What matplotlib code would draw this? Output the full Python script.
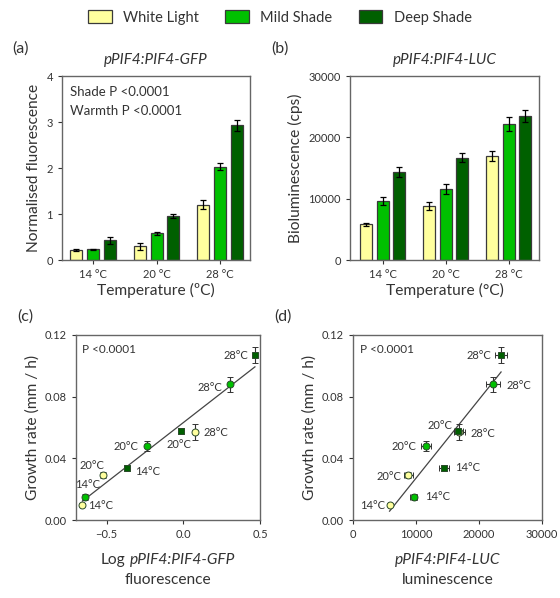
import numpy as np
import matplotlib
matplotlib.use("Agg")
import matplotlib.pyplot as plt
from matplotlib.patches import Patch
from matplotlib.offsetbox import TextArea, HPacker, AnnotationBbox

plt.rcParams["font.family"] = ["Lato", "DejaVu Sans"]
plt.rcParams["text.color"] = "#333333"
plt.rcParams["axes.labelcolor"] = "#333333"
plt.rcParams["xtick.color"] = "#333333"
plt.rcParams["ytick.color"] = "#333333"

# --- data ---
temps = ["14 °C", "20 °C", "28 °C"]
pt_labels = ["14°C", "20°C", "28°C"]
conditions = ["White Light", "Mild Shade", "Deep Shade"]
colors = ["#FFFF9E", "#00C000", "#006000"]

gfp_white = [0.22, 0.30, 1.20]
gfp_mild = [0.23, 0.58, 2.03]
gfp_deep = [0.43, 0.96, 2.93]
gfp_err_white = [0.03, 0.08, 0.10]
gfp_err_mild = [0.02, 0.03, 0.08]
gfp_err_deep = [0.08, 0.04, 0.12]

luc_white = [5800, 8800, 16900]
luc_mild = [9600, 11600, 22200]
luc_deep = [14400, 16700, 23500]
luc_err_white = [300, 700, 800]
luc_err_mild = [600, 800, 1100]
luc_err_deep = [800, 700, 1000]

growth_white = [0.010, 0.029, 0.057]
growth_mild = [0.015, 0.048, 0.088]
growth_deep = [0.034, 0.058, 0.107]
growth_err_white = [0.001, 0.002, 0.005]
growth_err_mild = [0.002, 0.003, 0.005]
growth_err_deep = [0.002, 0.002, 0.005]

gfp = [gfp_white, gfp_mild, gfp_deep]
gfp_err = [gfp_err_white, gfp_err_mild, gfp_err_deep]
luc = [luc_white, luc_mild, luc_deep]
luc_err = [luc_err_white, luc_err_mild, luc_err_deep]
growth = [growth_white, growth_mild, growth_deep]
growth_err = [growth_err_white, growth_err_mild, growth_err_deep]
markers = ["o", "o", "s"]

# label placement (offset in points, ha) for scatter panels
offs_c = [
    [((4, -1), "left"), ((-8, 7), "center"), ((6, 0), "left")],
    [((1.5, 9), "center"), ((-6, 0), "right"), ((-6, -2), "right")],
    [((6, -3), "left"), ((-1.5, -10), "center"), ((-5, 0), "right")],
]
offs_d = [
    [((-3, -1), "right"), ((-5, -1), "right"), ((8, -1), "left")],
    [((8, 0), "left"), ((-7, 0), "right"), ((10, -1), "left")],
    [((8, 0), "left"), ((-4, 4), "right"), ((-7, 0), "right")],
]

LABEL_FS = 11.2
TICK_FS = 8

fig = plt.figure(figsize=(5.6, 5.98), dpi=100)
ax_a = fig.add_axes([0.1107, 0.5652, 0.3357, 0.3077])
ax_b = fig.add_axes([0.625, 0.5652, 0.3375, 0.3077])
ax_c = fig.add_axes([0.1357, 0.1304, 0.3286, 0.3094])
ax_d = fig.add_axes([0.6304, 0.1304, 0.3375, 0.3094])


def style(ax):
    for s in ax.spines.values():
        s.set_color("#666666")
        s.set_linewidth(1.0)
    ax.tick_params(direction="out", length=3, width=0.8, labelsize=TICK_FS, colors="#333333")


x = np.arange(len(temps))
w = 0.19
step = 0.265


def bars(ax, vals, errs):
    for i in range(3):
        ax.bar(x + (i - 1) * step, vals[i], w, color=colors[i], edgecolor="#3a3a3a",
               linewidth=0.9, yerr=errs[i], capsize=2.5,
               error_kw=dict(elinewidth=0.9, capthick=0.9, ecolor="black"), zorder=2)
    ax.set_xticks(x)
    ax.set_xticklabels(temps)
    style(ax)


bars(ax_a, gfp, gfp_err)
ax_a.set_xlim(-0.49, 2.47)
ax_a.set_ylim(0, 4)
ax_a.set_yticks([0, 1, 2, 3, 4])
ax_a.set_ylabel("Normalised fluorescence", fontsize=LABEL_FS, labelpad=4)
ax_a.set_xlabel("Temperature (ºC)", fontsize=LABEL_FS, labelpad=2)
ax_a.set_title("pPIF4:PIF4-GFP", fontsize=11, fontstyle="italic", pad=9)
ax_a.text(0.045, 0.915, "Shade P <0.0001", transform=ax_a.transAxes, fontsize=9.5, va="center")
ax_a.text(0.045, 0.81, "Warmth P <0.0001", transform=ax_a.transAxes, fontsize=9.5, va="center")

bars(ax_b, luc, luc_err)
ax_b.set_xlim(-0.52, 2.48)
ax_b.set_ylim(0, 30000)
ax_b.set_yticks([0, 10000, 20000, 30000])
ax_b.set_ylabel("Bioluminescence (cps)", fontsize=LABEL_FS, labelpad=4)
ax_b.set_xlabel("Temperature (°C)", fontsize=LABEL_FS, labelpad=2)
ax_b.set_title("pPIF4:PIF4-LUC", fontsize=11, fontstyle="italic", pad=9)


def scatter(ax, xs, xerrs, offs):
    allx, ally = [], []
    for i in range(3):
        xv = np.asarray(xs[i])
        ax.errorbar(xv, growth[i], yerr=growth_err[i], xerr=xerrs[i] if xerrs else None,
                    fmt=markers[i], ms=5, mfc=colors[i], mec="#2a4a2a", mew=0.7,
                    ecolor="#333333", elinewidth=0.8, capsize=2, capthick=0.8, zorder=3)
        for j in range(3):
            (dx, dy), ha = offs[i][j]
            ax.annotate(pt_labels[j], (xv[j], growth[i][j]), xytext=(dx, dy),
                        textcoords="offset points", ha=ha, va="center", fontsize=8)
        allx += list(xv)
        ally += list(growth[i])
    allx = np.array(allx)
    k, b = np.polyfit(allx, ally, 1)
    xx = np.array([allx.min(), allx.max()])
    ax.plot(xx, k * xx + b, color="#444444", lw=0.9, zorder=2)
    ax.set_ylim(0, 0.12)
    ax.set_yticks([0, 0.04, 0.08, 0.12])
    ax.set_yticklabels(["0.00", "0.04", "0.08", "0.12"])
    ax.set_ylabel("Growth rate (mm / h)", fontsize=LABEL_FS, labelpad=4)
    ax.text(0.035, 0.92, "P <0.0001", transform=ax.transAxes, fontsize=8.5, va="center")
    style(ax)


def mixed_xlabel(ax, parts, second):
    boxes = [TextArea(t, textprops=dict(fontsize=LABEL_FS, fontstyle=s, color="#333333"))
             for t, s in parts]
    pack = HPacker(children=boxes, align="baseline", pad=0, sep=3)
    ab = AnnotationBbox(pack, (0.5, -0.215), xycoords="axes fraction", frameon=False,
                        box_alignment=(0.5, 0.5))
    ax.add_artist(ab)
    ax.text(0.5, -0.325, second, transform=ax.transAxes, ha="center", va="center",
            fontsize=LABEL_FS)


scatter(ax_c, [np.log10(v) for v in gfp], None, offs_c)
ax_c.set_xlim(-0.7, 0.5)
ax_c.set_xticks([-0.5, 0.0, 0.5])
mixed_xlabel(ax_c, [("Log", "normal"), ("pPIF4:PIF4-GFP", "italic")], "fluorescence")

scatter(ax_d, luc, luc_err, offs_d)
ax_d.set_xlim(0, 30000)
ax_d.set_xticks([0, 10000, 20000, 30000])
mixed_xlabel(ax_d, [("pPIF4:PIF4-LUC", "italic")], "luminescence")

for lab, xp, yp in [("(a)", 0.022, 0.918), ("(b)", 0.485, 0.918),
                    ("(c)", 0.030, 0.470), ("(d)", 0.490, 0.470)]:
    fig.text(xp, yp, lab, fontsize=11.5, va="center")

handles = [Patch(facecolor=c, edgecolor="#3a3a3a", linewidth=0.9) for c in colors]
fig.legend(handles, conditions, loc="center", bbox_to_anchor=(0.5, 0.971), ncol=3,
           frameon=False, fontsize=10.5, handlelength=1.6, handleheight=1.0,
           columnspacing=1.8, handletextpad=0.8)

fig.savefig("out.png", dpi=100)
